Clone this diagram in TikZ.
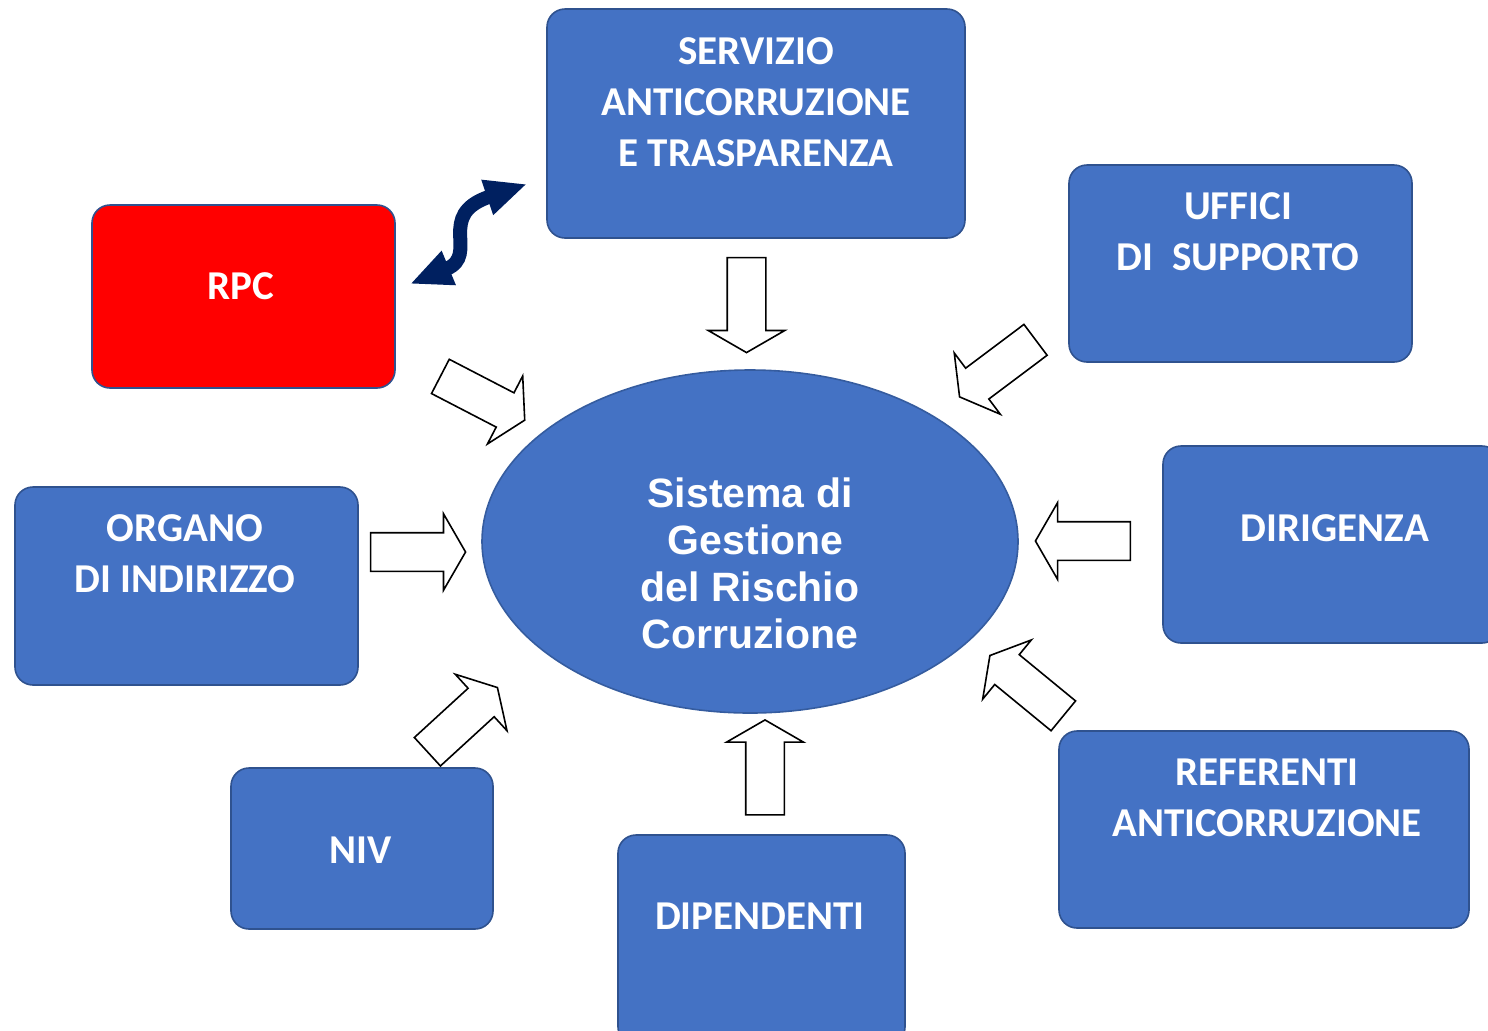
\documentclass[tikz,border=0pt]{standalone}
\usepackage{fontspec}
\usepackage{tikz}
\usetikzlibrary{arrows.meta, positioning, shapes, shapes.arrows}
\definecolor{boxBlue}{HTML}{4472C4}
\definecolor{boxEdge}{HTML}{2F528F}
\definecolor{navyArrow}{HTML}{002060}
\newfontfamily\boxfont{Carlito}
\newfontfamily\ellfont{Liberation Sans}

\tikzset{
  blockbox/.style={rectangle, rounded corners=9pt, draw=boxEdge, line width=0.8pt, fill=boxBlue, inner sep=0pt},
  boxtext/.style={text=white, font=\boxfont\bfseries\fontsize{20.5}{25.5}\selectfont, align=center},
  hollow/.style={single arrow, draw=black, fill=white, line width=0.8pt, minimum height=47.5pt,
    single arrow head extend=9.5pt, single arrow tip angle=120, inner xsep=0pt, inner ysep=9.25pt}
}

\begin{document}
\begin{tikzpicture}[x=0.5pt, y=-0.5pt]
    \useasboundingbox (0,0) rectangle (1488,1030);

    % central ellipse
    \node[ellipse, fill=boxBlue, draw=boxEdge!70!boxBlue, line width=0.8pt, minimum width=268pt, minimum height=171.5pt, inner sep=0pt] (core) at (750,541.5) {};
    \node[text=white, font=\ellfont\bfseries\fontsize{20.5}{23.5}\selectfont, align=center] (coreT) at (750,563) {Sistema di\\ \ Gestione\\del Rischio\\Corruzione};

    % surrounding boxes
    \node[blockbox, fill=red, minimum width=151.5pt, minimum height=91.5pt] (rpc) at (243.5,296.5) {};
    \node[boxtext] (rpcT) at (241,286) {RPC};

    \node[blockbox, minimum width=209pt, minimum height=114.5pt] (serv) at (756,123.5) {};
    \node[boxtext] (servT) at (756,102) {SERVIZIO\\ANTICORRUZIONE\\E TRASPARENZA};

    \node[blockbox, minimum width=171.5pt, minimum height=98.5pt] (uff) at (1240.5,263.5) {};
    \node[boxtext] (uffT) at (1238,231.5) {UFFICI\\DI\ \ SUPPORTO};

    \node[blockbox, minimum width=168.5pt, minimum height=98.5pt] (dir) at (1331.5,544.5) {};
    \node[boxtext] (dirT) at (1335,528) {DIRIGENZA};

    \node[blockbox, minimum width=205pt, minimum height=98.5pt] (ref) at (1264,829.5) {};
    \node[boxtext] (refT) at (1267,797.5) {REFERENTI\\ANTICORRUZIONE};

    \node[blockbox, minimum width=143.5pt, minimum height=105pt] (dip) at (761.5,940) {};
    \node[boxtext] (dipT) at (760,916) {DIPENDENTI};

    \node[blockbox, minimum width=131pt, minimum height=80.5pt] (niv) at (362,848.5) {};
    \node[boxtext] (nivT) at (361,850) {NIV};

    \node[blockbox, minimum width=171.5pt, minimum height=99pt] (org) at (186.5,586) {};
    \node[boxtext] (orgT) at (185,553.5) {ORGANO\\DI INDIRIZZO};

    % hollow block arrows towards the ellipse
    \node[hollow, rotate=-90] (aServ) at (746.5,299.5) {};
    \node[hollow, rotate=-27.4] (aRpc) at (477.6,395.7) {};
    \node[hollow, rotate=-143.1] (aUff) at (1002,365) {};
    \node[hollow, rotate=0] (aOrg) at (412.5,552) {};
    \node[hollow, rotate=180] (aDir) at (1088.5,541) {};
    \node[hollow, rotate=140.6] (aRef) at (1030.9,689.2) {};
    \node[hollow, rotate=42.5] (aNiv) at (458.3,723.4) {};
    \node[hollow, rotate=90] (aDip) at (765,773) {};

    % two-way link RPC -- servizio
    \coordinate (sa) at (410,284);
    \coordinate (sb) at (527,184);
    \draw[navyArrow, line width=7pt, {Triangle[length=21pt,width=17pt]}-{Triangle[length=21pt,width=17pt]}]
        (sa) .. controls (480,255) and (435,215) .. (sb);
\end{tikzpicture}
\end{document}
